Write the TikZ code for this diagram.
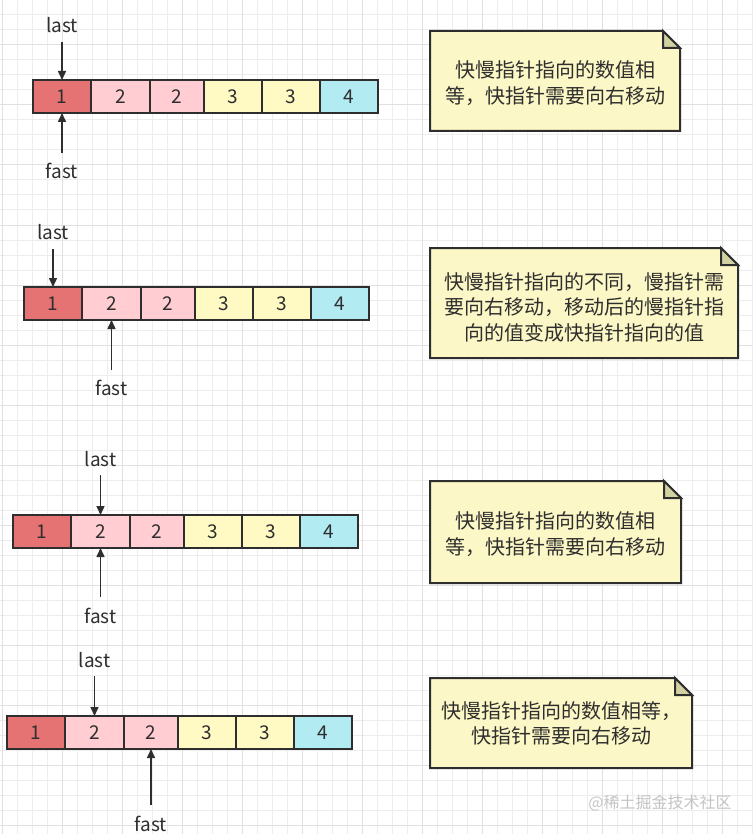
\documentclass[tikz,border=0pt]{standalone}
\usepackage{fontspec}
\setmainfont{Noto Sans CJK SC}
\usetikzlibrary{arrows.meta,backgrounds}
\definecolor{cred}{HTML}{E57373}
\definecolor{cpink}{HTML}{FFCDD2}
\definecolor{cyel}{HTML}{FFF9C4}
\definecolor{ccyan}{HTML}{B2EBF2}
\definecolor{ink}{HTML}{2E2E2E}
\definecolor{notefillc}{HTML}{FCF7C6}
\definecolor{foldc}{HTML}{D2D1A2}
\definecolor{gridminor}{HTML}{EDEDED}
\definecolor{gridmajor}{HTML}{E0E0E0}
\definecolor{wmc}{HTML}{C4C4C4}
\tikzset{
  cell/.style={draw=ink, line width=2pt, minimum height=33pt, inner sep=0pt, outer sep=0pt,
    text=ink, font=\fontsize{19pt}{19pt}\selectfont, anchor=north west},
  lbl/.style={inner sep=0pt, outer sep=0pt, text=ink, font=\fontsize{19pt}{19pt}\selectfont},
  ptr/.style={draw=ink, line width=1.5pt, -{Triangle[length=9pt,width=8pt]}},
  notetext/.style={inner sep=0pt, outer sep=0pt, align=center, text=ink,
    font=\fontsize{20pt}{25.5pt}\selectfont},
  noteshape/.style={draw=ink, line width=2pt, fill=notefillc, line join=miter},
  foldshape/.style={draw=ink, line width=2pt, fill=foldc, line join=miter},
}
\begin{document}
\begin{tikzpicture}[x=1pt,y=-1pt]
\useasboundingbox (0,0) rectangle (753,834);
\begin{scope}[on background layer]
\fill[white] (0,0) rectangle (753,834);
\foreach \x in {2,17,...,752} \draw[gridminor, line width=1pt] (\x,0) -- (\x,834);
\foreach \y in {0,15,...,834} \draw[gridminor, line width=1pt] (0,\y) -- (753,\y);
\foreach \x in {2,62,...,752} \draw[gridmajor, line width=1pt] (\x,0) -- (\x,834);
\foreach \y in {45,105,...,834} \draw[gridmajor, line width=1pt] (0,\y) -- (753,\y);
\end{scope}

% arrays
\foreach \r/\x/\y in {1/33/80, 2/24/287, 3/13/515, 4/7/716} {
  \foreach \c/\dx/\w/\col/\v in {1/0/58/cred/1, 2/58/59/cpink/2, 3/117/54/cpink/2, 4/171/58/cyel/3, 5/229/58/cyel/3, 6/287/58/ccyan/4} {
    \node[cell, fill=\col, minimum width=\w pt] (r\r-\c) at ({\x+\dx},\y) {\v};
  }
}

% pointers
\node[lbl, anchor=base] (l1) at (62,33) {last};
\node[lbl, anchor=north] (f1) at (62,163) {fast};
\draw[ptr, shorten <=9pt] (l1.south) -- (r1-1.north);
\draw[ptr, shorten <=10pt] (f1.north) -- (r1-1.south);

\node[lbl, anchor=base] (l2) at (53,240) {last};
\node[lbl, anchor=north] (f2) at (111.5,380) {fast};
\draw[ptr, shorten <=9pt] (l2.south) -- (r2-1.north);
\draw[ptr, shorten <=10pt] (f2.north) -- (r2-2.south);

\node[lbl, anchor=base] (l3) at (100.5,466) {last};
\node[lbl, anchor=north] (f3) at (100.5,608) {fast};
\draw[ptr, shorten <=9pt] (l3.south) -- (r3-2.north);
\draw[ptr, shorten <=11pt] (f3.north) -- (r3-2.south);

\node[lbl, anchor=base] (l4) at (94.5,667) {last};
\node[lbl, anchor=north] (f4) at (151,816) {fast};
\draw[ptr, shorten <=9pt] (l4.south) -- (r4-2.north);
\draw[ptr, shorten <=11pt] (f4.north) -- (r4-3.south);

% notes (shapes on background layer, above grid)
\begin{scope}[on background layer]
\foreach \x/\y/\w/\h in {430/31/250/100, 430/248/308/110, 430/481/251/102, 430/678/262/90} {
    \path[noteshape] (\x,\y) -- ({\x+\w-17},\y) -- ({\x+\w},{\y+17}) -- ({\x+\w},{\y+\h}) -- (\x,{\y+\h}) -- cycle;
    \path[foldshape] ({\x+\w-17},\y) -- ({\x+\w-17},{\y+17}) -- ({\x+\w},{\y+17}) -- cycle;
}
\end{scope}
\node[notetext] (t1) at (555,83) {快慢指针指向的数值相\\等，快指针需要向右移动};
\node[notetext] (t2) at (584,307) {快慢指针指向的不同，慢指针需\\要向右移动，移动后的慢指针指\\向的值变成快指针指向的值};
\node[notetext] (t3) at (555.5,534) {快慢指针指向的数值相\\等，快指针需要向右移动};
\node[notetext] (t4) at (561,723.5) {快慢指针指向的数值相等，\\快指针需要向右移动};

\node[inner sep=0pt, text=wmc, font=\fontsize{16pt}{16pt}\selectfont] (wm) at (660,803) {@稀土掘金技术社区};
\end{tikzpicture}
\end{document}
